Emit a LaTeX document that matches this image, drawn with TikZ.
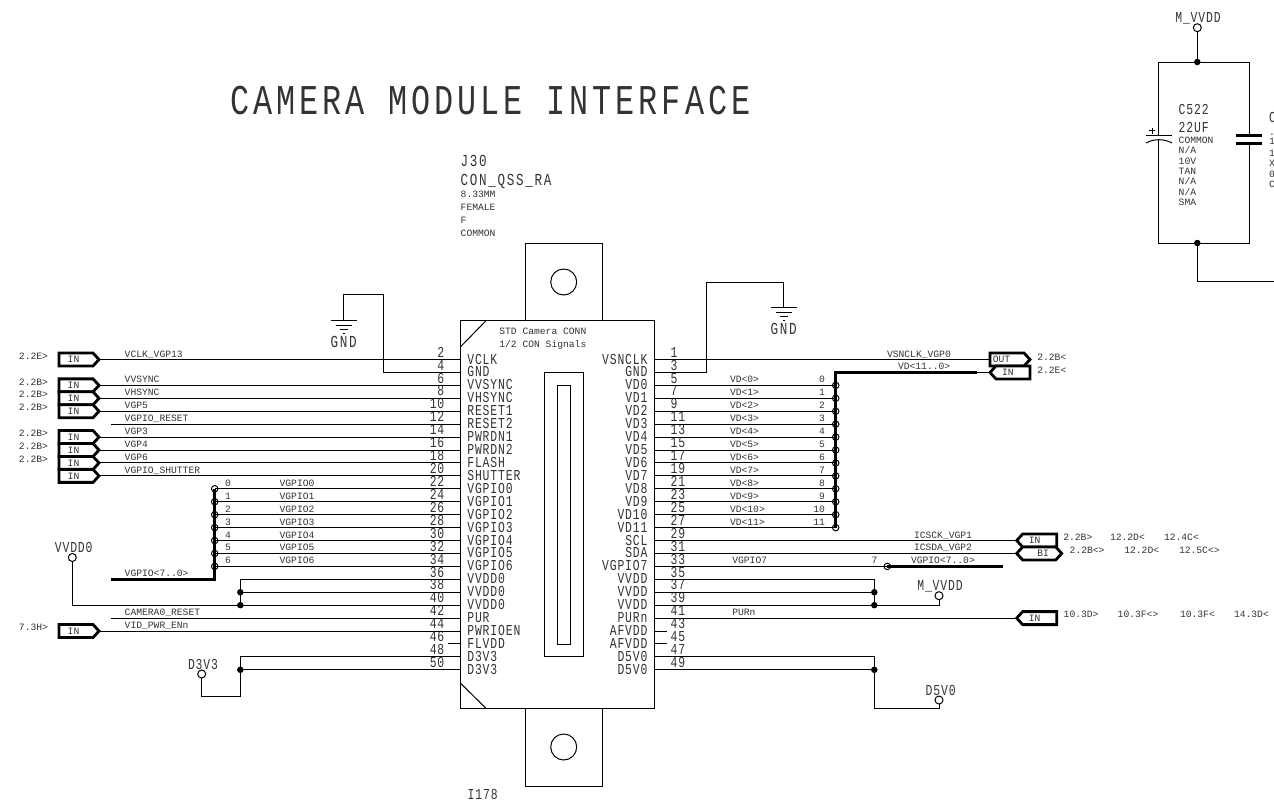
\documentclass[tikz,border=0pt]{standalone}
\usepackage{fontspec}
\usetikzlibrary{shapes.symbols,calc}
\newfontfamily\smf{Liberation Mono}
\newfontfamily\mdf[FakeStretch=0.75,LetterSpace=5.7]{Liberation Mono}
\newfontfamily\lgf[FakeStretch=0.75,LetterSpace=10]{Liberation Mono}
\newfontfamily\ttf[FakeStretch=0.75,LetterSpace=9.6]{Liberation Mono}
\newcommand{\fS}{\smf\fontsize{9.67}{10}\selectfont}
\newcommand{\fM}{\mdf\fontsize{15.2}{16}\selectfont}
\newcommand{\fL}{\lgf\fontsize{16.8}{18}\selectfont}
\newcommand{\fT}{\ttf\fontsize{42.4}{44}\selectfont}
\newcommand{\portxt}[2]{\makebox[0pt]{\hspace{#1}#2}}
\definecolor{ink}{HTML}{333333}
\tikzset{
  x=1pt,y=-1pt,
  wire/.style={line width=1pt,draw=black,line join=miter},
  symb/.style={line width=1pt,draw=black},
  bus/.style={line width=3.3pt,draw=black,line join=miter},
  tS/.style={font=\fS,text=ink,inner sep=0pt,outer sep=0pt,anchor=base west},
  tSe/.style={font=\fS,text=ink,inner sep=0pt,outer sep=0pt,anchor=base east},
  tM/.style={font=\fM,text=ink,inner sep=0pt,outer sep=0pt,anchor=base west},
  tMe/.style={font=\fM,text=ink,inner sep=0pt,outer sep=0pt,anchor=base east},
  tMc/.style={font=\fM,text=ink,inner sep=0pt,outer sep=0pt,anchor=base},
  tL/.style={font=\fL,text=ink,inner sep=0pt,outer sep=0pt,anchor=base west},
  tLc/.style={font=\fL,text=ink,inner sep=0pt,outer sep=0pt,anchor=base},
  dotj/.style={circle,fill=black,draw=none,minimum size=6.5pt,inner sep=0pt,outer sep=0pt},
  ring/.style={circle,fill=white,draw=black,line width=1pt,minimum size=8pt,inner sep=0pt,outer sep=0pt},
  busring/.style={circle,draw=black,line width=1pt,minimum size=6.5pt,inner sep=0pt,outer sep=0pt},
  port/.style={signal,draw=black,fill=white,line width=2.8pt,minimum width=40pt,minimum height=13pt,inner sep=0pt,outer sep=0pt,font=\fS,text=ink,signal pointer angle=95},
  portE/.style={port,signal to=east,anchor=east},
  portW/.style={port,signal to=west,anchor=west},
  portB/.style={port,signal to=west and east,anchor=west,minimum width=45pt},
  gnd/.pic={
    \draw[symb] (-13,0) -- (13,0);
    \draw[symb] (-8,4.5) -- (8,4.5);
    \draw[symb] (-4,9) -- (4,9);
    \draw[symb] (-1,13) -- (1,13);
  },
}
\begin{document}
\begin{tikzpicture}
\useasboundingbox (0,0) rectangle (1274,801);

% ---- title and connector reference text
\node[font=\fT,text=ink,inner sep=0pt,anchor=base west] (title) at (230,114) {CAMERA MODULE INTERFACE};
\node[tL] (refJ) at (460.7,166) {J30};
\node[tL] (refV) at (460.7,185) {CON\_QSS\_RA};
\node[tS] (refA) at (460.7,197.3) {8.33MM};
\node[tS] (refB) at (460.7,210) {FEMALE};
\node[tS] (refC) at (460.7,223) {F};
\node[tS] (refD) at (460.7,236) {COMMON};
\node[tM] (inst) at (467.7,799) {I178};

% ---- connector body
\draw[symb] (525,320.7) -- (525,243) -- (602.7,243) -- (602.7,320.7);
\draw[symb] (525,708.3) -- (525,786) -- (602.7,786) -- (602.7,708.3);
\node[circle,draw=black,line width=1pt,minimum size=26pt,inner sep=0pt] (holeT) at (563.7,282) {};
\node[circle,draw=black,line width=1pt,minimum size=26pt,inner sep=0pt] (holeB) at (563.7,747) {};
\draw[symb,fill=white] (460.3,320.7) rectangle (654,708.3);
\draw[symb] (460.3,347) -- (486,320.7);
\draw[symb] (460.3,683) -- (486,708.3);
\draw[symb] (544.5,372) rectangle (583,656.7);
\draw[symb] (557.3,385) rectangle (570.7,644);
\node[tS] (conn1) at (499.3,334.3) {STD Camera CONN};
\node[tS] (conn2) at (499.3,347) {1/2 CON Signals};

% ---- pin rows
\foreach \i in {0,...,24}{
  \pgfmathsetmacro{\yy}{359.5+12.93*\i}
  \coordinate (L\i) at (460.3,\yy);
  \coordinate (R\i) at (654,\yy);
}
% left pin numbers and names
\foreach \i/\n/\t in {0/2/VCLK,1/4/GND,2/6/VVSYNC,3/8/VHSYNC,4/10/RESET1,5/12/RESET2,6/14/PWRDN1,7/16/PWRDN2,8/18/FLASH,9/20/SHUTTER,10/22/VGPIO0,11/24/VGPIO1,12/26/VGPIO2,13/28/VGPIO3,14/30/VGPIO4,15/32/VGPIO5,16/34/VGPIO6,17/36/VVDD0,18/38/VVDD0,19/40/VVDD0,20/42/PUR,21/44/PWRIOEN,22/46/FLVDD,23/48/D3V3,24/50/D3V3}{
  \node[tMe] (ln\i) at ($(L\i)+(-16,-2.3)$) {\n};
  \node[tM] (lt\i) at ($(L\i)+(7,4.5)$) {\t};
}
% right pin numbers and names
\foreach \i/\n/\t in {0/1/VSNCLK,1/3/GND,2/5/VD0,3/7/VD1,4/9/VD2,5/11/VD3,6/13/VD4,7/15/VD5,8/17/VD6,9/19/VD7,10/21/VD8,11/23/VD9,12/25/VD10,13/27/VD11,14/29/SCL,15/31/SDA,16/33/VGPIO7,17/35/VVDD,18/37/VVDD,19/39/VVDD,20/41/PURn,21/43/AFVDD,22/45/AFVDD,23/47/D5V0,24/49/D5V0}{
  \node[tM] (rn\i) at ($(R\i)+(16.7,-2.3)$) {\n};
  \node[tMe] (rt\i) at ($(R\i)+(-6.5,4.5)$) {\t};
}

% ---- left ports with wires
\foreach \i/\t/\x in {0/VCLK\_VGP13/2.2E>,2/VVSYNC/2.2B>,3/VHSYNC/2.2B>,4/VGP5/2.2B>,6/VGP3/2.2B>,7/VGP4/2.2B>,8/VGP6/2.2B>,9/VGPIO\_SHUTTER/,21/VID\_PWR\_ENn/7.3H>}{
  \node[portE] (pl\i) at (99,0 |- L\i) {\portxt{-5pt}{IN}};
  \draw[wire] (pl\i.east) -- (L\i);
  \node[tS] (wl\i) at ($(124.7,0 |- L\i)+(0,-2.5)$) {\t};
  \node[tS] (xl\i) at ($(19,0 |- L\i)+(0,-0.3)$) {\x};
}
% left free wires
\foreach \i/\t in {5/VGPIO\_RESET,20/CAMERA0\_RESET}{
  \coordinate (fl\i) at (111,0 |- L\i);
  \draw[wire] (fl\i) -- (L\i);
  \node[tS] (wl\i) at ($(124.7,0 |- L\i)+(0,-2.5)$) {\t};
}
% stub pins
\coordinate (st22) at (447.5,0 |- L22);
\draw[wire] (st22) -- (L22);

% ---- left GND
\coordinate (gndA) at (383,0 |- L1);
\coordinate (gndB) at (383,294.7);
\coordinate (gndC) at (343.7,294.7);
\coordinate (gndD) at (343.7,320.5);
\draw[wire] (L1) -- (gndA) -- (gndB) -- (gndC) -- (gndD);
\pic at (gndD) {gnd};
\node[tLc] (gndL) at (343.7,347) {GND};

% ---- VGPIO bus, left
\coordinate (busA) at (111,0 |- L17);
\coordinate (busB) at (214.7,0 |- L17);
\coordinate (busC) at (214.7,0 |- L10);
\foreach \i/\b/\t in {10/0/VGPIO0,11/1/VGPIO1,12/2/VGPIO2,13/3/VGPIO3,14/4/VGPIO4,15/5/VGPIO5,16/6/VGPIO6}{
  \node[busring] (br\i) at (214.7,0 |- L\i) {};
  \draw[wire] (br\i.center) -- (L\i);
  \node[tS] (bn\i) at ($(225,0 |- L\i)+(0,-2.5)$) {\b};
  \node[tS] (bt\i) at ($(279.6,0 |- L\i)+(0,-2.5)$) {\t};
}
\draw[bus] (busA) -- (busB) -- (busC);
\node[tS] (busL) at ($(124.7,0 |- L17)+(0,-2.5)$) {VGPIO<7..0>};

% ---- VVDD0
\coordinate (v17) at (240.3,0 |- L17);
\node[dotj] (v18) at (240.3,0 |- L18) {};
\node[dotj] (v19) at (240.3,0 |- L19) {};
\node[ring] (vvdd) at (72.3,557.5) {};
\node[tMc] (vvddL) at (73.7,552) {VVDD0};
\coordinate (vc) at (72.3,0 |- L19);
\draw[wire] (L17) -- (v17) -- (v18.center) -- (v19.center);
\draw[wire] (v18.center) -- (L18);
\draw[wire] (vvdd) -- (vc) -- (L19);

% ---- D3V3
\coordinate (d23) at (240.3,0 |- L23);
\node[dotj] (d24) at (240.3,0 |- L24) {};
\coordinate (dB) at (240.3,696);
\coordinate (dC) at (201.7,696);
\node[ring] (d3) at (201.7,674) {};
\node[tMc] (d3L) at (203,669) {D3V3};
\draw[wire] (L23) -- (d23) -- (dB) -- (dC) -- (d3);
\draw[wire] (d24.center) -- (L24);

% ---- right GND
\coordinate (rgA) at (706.3,0 |- R1);
\coordinate (rgB) at (706.3,282);
\coordinate (rgC) at (783.7,282);
\coordinate (rgD) at (783.7,307.7);
\draw[wire] (R1) -- (rgA) -- (rgB) -- (rgC) -- (rgD);
\pic at (rgD) {gnd};
\node[tLc] (gndR) at (783.7,334) {GND};

% ---- VSNCLK and VD bus
\node[portE,anchor=west] (pOut) at (990,0 |- R0) {\portxt{-11pt}{OUT}};
\draw[wire] (R0) -- (pOut.west);
\node[tS] (wOut) at ($(887,0 |- R0)+(0,-2.5)$) {VSNCLK\_VGP0};
\node[tS] (xOut) at (1037.3,360) {2.2B<};
\node[portW] (pVD) at (990,0 |- R1) {\portxt{-10pt}{IN}};
\coordinate (vdT) at (835.7,0 |- R1);
\coordinate (vdE) at (977.3,0 |- R1);
\coordinate (vdB) at (835.7,0 |- R13);
\foreach \i/\b/\t in {2/0/VD<0>,3/1/VD<1>,4/2/VD<2>,5/3/VD<3>,6/4/VD<4>,7/5/VD<5>,8/6/VD<6>,9/7/VD<7>,10/8/VD<8>,11/9/VD<9>,12/10/VD<10>,13/11/VD<11>}{
  \node[busring] (vr\i) at (835.7,0 |- R\i) {};
  \draw[wire] (R\i) -- (vr\i.center);
  \node[tS] (vt\i) at ($(730,0 |- R\i)+(0,-2.5)$) {\t};
  \node[tSe] (vb\i) at ($(825,0 |- R\i)+(0,-2.5)$) {\b};
}
\draw[wire] (vdE) -- (pVD.west);
\draw[bus] (vdE) -- (vdT) -- (vdB);
\node[tS] (wVD) at ($(898,0 |- R1)+(0,-2.5)$) {VD<11..0>};
\node[tS] (xVD) at (1037.3,373) {2.2E<};

% ---- SCL, SDA
\node[portW] (pScl) at (1016.7,0 |- R14) {\portxt{-10pt}{IN}};
\draw[wire] (R14) -- (pScl.west);
\node[tS] (wScl) at ($(914,0 |- R14)+(0,-2.5)$) {ICSCK\_VGP1};
\node[portB] (pSda) at (1016.7,0 |- R15) {\portxt{8pt}{BI}};
\draw[wire] (R15) -- (pSda.west);
\node[tS] (wSda) at ($(914,0 |- R15)+(0,-2.5)$) {ICSDA\_VGP2};
\foreach \n/\x/\t in {a/1063.3/2.2B>,b/1110/12.2D<,c/1164/12.4C<}{\node[tS] (xs\n) at (\x,540.7) {\t};}
\foreach \n/\x/\t in {a/1069.7/2.2B<>,b/1124.3/12.2D<,c/1179/12.5C<>}{\node[tS] (xd\n) at (\x,553.7) {\t};}

% ---- VGPIO7
\node[busring] (g7) at (887.3,0 |- R16) {};
\coordinate (g7E) at (1003.3,0 |- R16);
\draw[wire] (R16) -- (g7.center);
\draw[bus] (g7.center) -- (g7E);
\node[tS] (g7a) at ($(732.3,0 |- R16)+(0,-2.5)$) {VGPIO7};
\node[tS] (g7b) at ($(871.7,0 |- R16)+(0,-2.5)$) {7};
\node[tS] (g7c) at ($(911,0 |- R16)+(0,-2.5)$) {VGPIO<7..0>};

% ---- VVDD
\coordinate (m17) at (874.3,0 |- R17);
\node[dotj] (m18) at (874.3,0 |- R18) {};
\node[dotj] (m19) at (874.3,0 |- R19) {};
\node[ring] (mv) at (939,595.7) {};
\node[tMc] (mvL) at (940,590.7) {M\_VVDD};
\coordinate (mc) at (939,0 |- R19);
\draw[wire] (R17) -- (m17) -- (m18.center) -- (m19.center);
\draw[wire] (R18) -- (m18.center);
\draw[wire] (R19) -- (mc) -- (mv);

% ---- PURn
\node[portW] (pPur) at (1016.7,0 |- R20) {\portxt{-10pt}{IN}};
\draw[wire] (R20) -- (pPur.west);
\node[tS] (wPur) at ($(732.3,0 |- R20)+(0,-2.5)$) {PURn};
\foreach \n/\x/\t in {a/1063.7/10.3D>,b/1117.7/10.3F<>,c/1180/10.3F<,d/1234/14.3D<}{\node[tS] (xp\n) at (\x,617.3) {\t};}

% ---- AFVDD stubs
\coordinate (st21) at (667,0 |- R21);
\coordinate (st22r) at (667,0 |- R22);
\draw[wire] (R21) -- (st21);
\draw[wire] (R22) -- (st22r);

% ---- D5V0
\coordinate (f23) at (874.3,0 |- R23);
\node[dotj] (f24) at (874.3,0 |- R24) {};
\coordinate (fB) at (874.3,708.7);
\coordinate (fC) at (939,708.7);
\node[ring] (f5) at (939,700) {};
\node[tMc] (f5L) at (940.7,695) {D5V0};
\draw[wire] (R23) -- (f23) -- (fB) -- (fC) -- (f5);
\draw[wire] (R24) -- (f24.center);

% ---- capacitors, upper right
\node[ring] (tm) at (1197.3,27.7) {};
\node[tMc] (tmL) at (1198,22) {M\_VVDD};
\node[dotj] (capT) at (1197.3,62) {};
\node[dotj] (capB) at (1197.3,243) {};
\coordinate (capE) at (1274,281.7);
\coordinate (capC) at (1197.3,281.7);
\draw[wire] (tm) -- (capT.center);
\draw[wire] (capB.center) -- (capC) -- (capE);
\draw[wire] (1158.7,135.7) -- (1158.7,62) -- (1249.3,62) -- (1249.3,135.5);
\draw[wire] (1158.7,140) -- (1158.7,243) -- (1249.3,243) -- (1249.3,143.5);
\draw[symb] (1146,135.7) -- (1172,135.7);
\draw[symb] (1146,143) .. controls (1154,138.6) and (1164,138.6) .. (1172,143);
\draw[line width=.8pt] (1149,130.5) -- (1155,130.5) (1152,127.5) -- (1152,133.5);
\draw[line width=3pt] (1236,135.5) -- (1262,135.5) (1236,143.5) -- (1262,143.5);
\node[tM] (c1) at (1178.7,114) {C522};
\node[tM] (c2) at (1178.7,132) {22UF};
\foreach \k/\t/\y in {a/COMMON/143.3,b/{N/A}/153.7,c/10V/164,d/TAN/174.3,e/{N/A}/184.7,f/{N/A}/195,g/SMA/205.3}{
  \node[tS] (cs\k) at (1178.7,\y) {\t};
}
\node[tM] (d1) at (1269,122.5) {C};
\foreach \k/\t/\y in {a/./135,b/1/144,c/1/156.5,d/X/166.5,e/0/177,f/C/187}{
  \node[tS] (ds\k) at (1269,\y) {\t};
}
\end{tikzpicture}
\end{document}
